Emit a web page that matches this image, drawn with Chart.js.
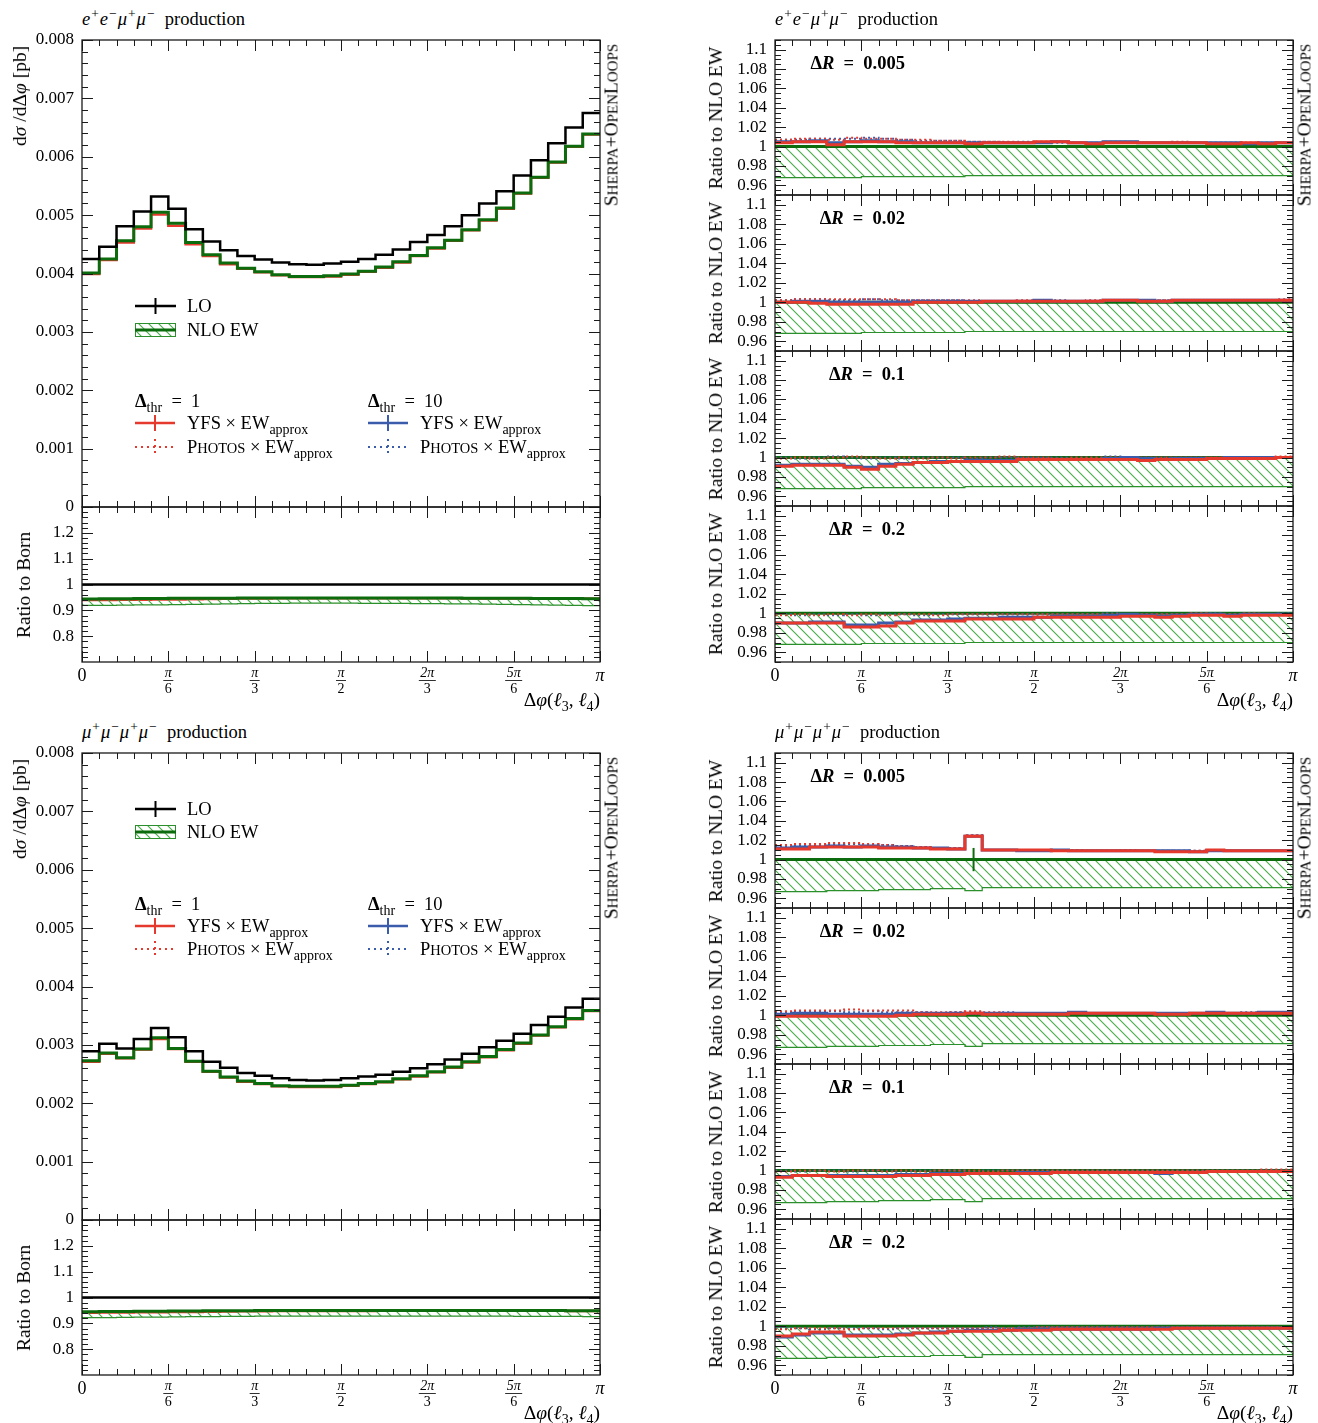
<!DOCTYPE html>
<html><head><meta charset="utf-8">
<script src="https://cdn.jsdelivr.net/npm/chart.js@4.4.1/dist/chart.umd.min.js"></script>
<style>
html,body{margin:0;padding:0;background:#fff;}
body{width:1318px;height:1423px;position:relative;overflow:hidden;font-family:"Liberation Serif","DejaVu Serif",serif;color:#000;}
canvas{position:absolute;}
.tx{position:absolute;white-space:nowrap;font-size:18.5px;line-height:20px;transform:translateY(-50%);}
.tx sub,.vt sub{font-size:14px;vertical-align:-5px;line-height:0;}
.tx sup{font-size:13.5px;vertical-align:7px;line-height:0;padding-left:1px;padding-right:1px;}
.vt{position:absolute;white-space:nowrap;font-size:19.5px;line-height:20px;transform:translate(-50%,-50%) rotate(-90deg);}
.sc{font-size:14.5px;}
.sc2{font-size:15px;}
</style></head><body>
<script>
// ---------------- DATA ----------------
const PI = Math.PI;
const NB = 30;
const binEdges = []; for (let i = 0; i <= NB; i++) binEdges.push(i * PI / NB);
const xTickLabels = [['0',''],['π','6'],['π','3'],['π','2'],['2π','3'],['5π','6'],['π','']];
const mainYTicks = ['0','0.001','0.002','0.003','0.004','0.005','0.006','0.007','0.008'];
const bornYTicks = ['0.8','0.9','1','1.1','1.2'];
const ratioYTicks = ['0.96','0.98','1','1.02','1.04','1.06','1.08','1.1'];
const deltaR = ['0.005','0.02','0.1','0.2'];

// e+e- mu+mu- : main panel
const lo_eemm  = [0.00425,0.00446,0.00481,0.00506,0.00532,0.00511,0.00476,0.00455,0.00440,0.00430,0.00424,0.00419,0.00416,0.00415,0.00417,0.00420,0.00425,0.00432,0.00441,0.00454,0.00466,0.00481,0.00500,0.00520,0.00541,0.00568,0.00594,0.00623,0.00650,0.00675];
const nlo_eemm = [0.00401,0.00425,0.00456,0.00480,0.00505,0.00486,0.00453,0.00432,0.00418,0.00409,0.00403,0.00398,0.00395,0.00395,0.00396,0.00399,0.00404,0.00411,0.00420,0.00431,0.00444,0.00457,0.00475,0.00492,0.00512,0.00538,0.00565,0.00591,0.00618,0.00639];
const yfs_eemm = [0.00399,0.00423,0.00453,0.00477,0.00501,0.00482,0.00450,0.00430,0.00416,0.00408,0.00402,0.00397,0.00394,0.00394,0.00395,0.00398,0.00403,0.00410,0.00419,0.00430,0.00443,0.00456,0.00474,0.00491,0.00511,0.00537,0.00564,0.00590,0.00617,0.00638];
// ratio to Born
const bornLO_eemm  = [1,1,1,1,1,1,1,1,1,1,1,1,1,1,1,1,1,1,1,1,1,1,1,1,1,1,1,1,1,1];
const bornNlo_eemm = [0.944,0.945,0.945,0.946,0.946,0.947,0.947,0.947,0.947,0.948,0.948,0.948,0.948,0.948,0.948,0.948,0.948,0.948,0.948,0.948,0.948,0.948,0.947,0.947,0.947,0.947,0.946,0.946,0.946,0.945];
const bornLow_eemm = [0.919,0.919,0.920,0.921,0.921,0.922,0.923,0.924,0.925,0.926,0.927,0.927,0.928,0.928,0.928,0.928,0.927,0.927,0.927,0.926,0.926,0.925,0.925,0.924,0.923,0.922,0.921,0.920,0.919,0.918];
const bornYfs_eemm = [0.940,0.940,0.941,0.941,0.942,0.942,0.943,0.944,0.945,0.946,0.946,0.947,0.947,0.947,0.947,0.947,0.947,0.947,0.947,0.947,0.947,0.947,0.946,0.946,0.946,0.946,0.946,0.946,0.945,0.945];
// ratio to NLO EW
const nloRef_eemm = [1,1,1,1,1,1,1,1,1,1,1,1,1,1,1,1,1,1,1,1,1,1,1,1,1,1,1,1,1,1];
const nloLow_eemm = [0.968,0.968,0.968,0.968,0.968,0.969,0.969,0.969,0.969,0.969,0.969,0.970,0.970,0.970,0.970,0.970,0.970,0.970,0.970,0.970,0.970,0.970,0.970,0.970,0.970,0.970,0.970,0.970,0.970,0.970];
const eemm_yfs1_005  = [1.004,1.005,1.005,1.002,1.005,1.005,1.005,1.004,1.004,1.004,1.004,1.003,1.004,1.004,1.004,1.005,1.005,1.004,1.003,1.004,1.004,1.004,1.004,1.004,1.004,1.003,1.003,1.004,1.003,1.004];
const eemm_pho1_005  = [1.007,1.008,1.008,1.007,1.009,1.008,1.008,1.007,1.007,1.006,1.006,1.005,1.005,1.005,1.004,1.005,1.005,1.004,1.004,1.005,1.005,1.004,1.004,1.005,1.004,1.004,1.004,1.004,1.004,1.004];
const eemm_yfs10_005 = [1.005,1.005,1.006,1.004,1.005,1.006,1.005,1.005,1.004,1.004,1.004,1.004,1.004,1.004,1.004,1.004,1.005,1.004,1.004,1.005,1.005,1.004,1.004,1.004,1.004,1.004,1.004,1.003,1.004,1.004];
const eemm_pho10_005 = [1.007,1.007,1.008,1.008,1.008,1.009,1.008,1.007,1.006,1.006,1.006,1.005,1.005,1.004,1.005,1.004,1.004,1.004,1.004,1.005,1.005,1.004,1.004,1.004,1.004,1.004,1.004,1.004,1.003,1.004];
const eemm_yfs1_002  = [1.000,1.000,0.999,0.998,0.998,0.998,0.998,0.998,1.000,1.000,1.000,1.000,1.001,1.001,1.001,1.001,1.001,1.001,1.001,1.002,1.002,1.001,1.001,1.002,1.002,1.002,1.002,1.002,1.002,1.002];
const eemm_pho1_002  = [1.002,1.003,1.003,1.003,1.003,1.003,1.003,1.002,1.002,1.002,1.002,1.002,1.001,1.001,1.002,1.001,1.001,1.001,1.002,1.002,1.002,1.002,1.002,1.002,1.002,1.002,1.002,1.002,1.002,1.003];
const eemm_yfs10_002 = [1.000,1.001,1.001,1.000,1.000,1.000,1.000,1.000,1.001,1.001,1.001,1.001,1.001,1.001,1.001,1.002,1.001,1.001,1.001,1.002,1.002,1.002,1.001,1.002,1.002,1.002,1.002,1.002,1.002,1.002];
const eemm_pho10_002 = [1.002,1.003,1.003,1.002,1.002,1.003,1.002,1.002,1.002,1.002,1.002,1.001,1.001,1.001,1.001,1.001,1.002,1.001,1.001,1.002,1.002,1.002,1.002,1.002,1.002,1.002,1.002,1.002,1.002,1.002];
const eemm_yfs1_01   = [0.991,0.992,0.992,0.992,0.990,0.988,0.991,0.993,0.995,0.995,0.996,0.996,0.996,0.996,0.998,0.998,0.998,0.998,0.998,0.998,0.998,0.997,0.998,0.998,0.998,0.999,0.999,0.999,0.999,1.000];
const eemm_pho1_01   = [0.999,1.000,0.999,1.000,1.001,1.000,0.999,1.000,0.999,1.000,0.999,1.000,1.000,1.001,1.000,1.000,0.999,1.000,1.000,1.000,1.000,1.000,1.000,1.000,1.000,1.000,1.000,1.000,1.000,1.001];
const eemm_yfs10_01  = [0.992,0.993,0.993,0.993,0.991,0.990,0.993,0.994,0.995,0.996,0.996,0.997,0.997,0.997,0.998,0.998,0.998,0.998,0.998,0.999,1.000,0.999,0.998,0.999,0.999,0.999,1.000,1.000,1.000,1.000];
const eemm_pho10_01  = [1.000,0.999,1.000,1.001,1.000,0.999,1.000,0.999,1.000,1.000,1.000,0.999,1.000,1.000,1.000,1.000,1.000,1.000,1.000,1.001,1.000,1.000,1.000,1.000,1.000,1.000,1.000,1.000,1.000,1.000];
const eemm_yfs1_02   = [0.990,0.990,0.990,0.990,0.986,0.986,0.987,0.990,0.992,0.992,0.992,0.994,0.994,0.994,0.994,0.996,0.996,0.996,0.996,0.996,0.997,0.997,0.996,0.997,0.998,0.998,0.997,0.998,0.998,0.998];
const eemm_pho1_02   = [0.998,0.999,0.998,0.999,0.998,0.999,0.998,0.999,0.999,0.998,0.999,0.999,0.999,0.999,0.999,0.999,0.999,0.999,0.999,0.999,0.999,0.999,0.999,0.999,1.000,0.999,0.999,1.000,0.999,0.999];
const eemm_yfs10_02  = [0.990,0.990,0.991,0.991,0.988,0.988,0.990,0.991,0.993,0.993,0.994,0.995,0.995,0.996,0.996,0.996,0.997,0.997,0.997,0.998,0.999,0.998,0.997,0.998,0.999,0.999,0.998,0.999,0.999,0.999];
const eemm_pho10_02  = [0.999,0.998,0.999,0.998,0.999,0.998,0.999,0.999,0.998,0.999,0.999,0.999,0.999,0.999,0.999,0.999,0.999,0.999,0.999,1.000,0.999,0.999,0.999,0.999,0.999,1.000,0.999,0.999,0.999,1.000];
const eemm_nloErr    = [0,0,0,0,0,0,0,0,0,0,0,0,0,0,0,0,0,0,0,0,0,0,0,0,0,0,0,0,0,0];

// mu+mu- mu+mu- : main panel
const lo_mmmm  = [0.00289,0.00302,0.00294,0.00310,0.00329,0.00313,0.00289,0.00271,0.00261,0.00252,0.00247,0.00243,0.00240,0.00239,0.00240,0.00243,0.00246,0.00249,0.00254,0.00260,0.00267,0.00275,0.00285,0.00296,0.00307,0.00319,0.00334,0.00348,0.00364,0.00379];
const nlo_mmmm = [0.00273,0.00286,0.00278,0.00293,0.00312,0.00294,0.00272,0.00255,0.00245,0.00238,0.00234,0.00230,0.00229,0.00229,0.00229,0.00231,0.00234,0.00237,0.00242,0.00247,0.00254,0.00262,0.00271,0.00280,0.00292,0.00303,0.00317,0.00331,0.00345,0.00359];
const yfs_mmmm = [0.00271,0.00285,0.00277,0.00292,0.00310,0.00293,0.00271,0.00254,0.00244,0.00237,0.00233,0.00229,0.00228,0.00228,0.00228,0.00230,0.00233,0.00236,0.00241,0.00246,0.00253,0.00261,0.00270,0.00279,0.00291,0.00302,0.00316,0.00330,0.00344,0.00358];
const bornLO_mmmm  = [1,1,1,1,1,1,1,1,1,1,1,1,1,1,1,1,1,1,1,1,1,1,1,1,1,1,1,1,1,1];
const bornNlo_mmmm = [0.945,0.946,0.946,0.947,0.947,0.948,0.948,0.949,0.949,0.949,0.950,0.950,0.950,0.950,0.950,0.950,0.950,0.950,0.950,0.950,0.950,0.950,0.950,0.950,0.950,0.950,0.950,0.950,0.949,0.949];
const bornLow_mmmm = [0.922,0.922,0.923,0.924,0.924,0.925,0.926,0.926,0.927,0.927,0.928,0.928,0.928,0.928,0.928,0.928,0.928,0.928,0.928,0.928,0.928,0.928,0.928,0.928,0.928,0.927,0.927,0.927,0.927,0.926];
const bornYfs_mmmm = [0.941,0.942,0.942,0.943,0.943,0.944,0.944,0.945,0.946,0.947,0.947,0.948,0.948,0.948,0.948,0.948,0.948,0.949,0.949,0.949,0.949,0.949,0.949,0.949,0.949,0.949,0.949,0.949,0.948,0.948];
const nloRef_mmmm = [1,1,1,1,1,1,1,1,1,1,1,1,1,1,1,1,1,1,1,1,1,1,1,1,1,1,1,1,1,1];
const nloLow_mmmm = [0.967,0.967,0.967,0.968,0.968,0.968,0.969,0.969,0.969,0.970,0.970,0.968,0.971,0.971,0.971,0.971,0.971,0.971,0.971,0.971,0.971,0.971,0.971,0.971,0.971,0.971,0.971,0.971,0.971,0.971];
const mmmm_yfs1_005  = [1.011,1.011,1.013,1.013,1.013,1.013,1.012,1.012,1.012,1.011,1.011,1.024,1.010,1.010,1.010,1.010,1.009,1.009,1.009,1.009,1.009,1.009,1.008,1.008,1.008,1.010,1.009,1.009,1.009,1.009];
const mmmm_pho1_005  = [1.015,1.016,1.016,1.017,1.017,1.016,1.015,1.014,1.013,1.012,1.012,1.025,1.010,1.010,1.010,1.010,1.010,1.010,1.009,1.009,1.010,1.009,1.009,1.009,1.009,1.010,1.009,1.009,1.009,1.009];
const mmmm_yfs10_005 = [1.012,1.013,1.013,1.014,1.013,1.014,1.013,1.013,1.012,1.012,1.011,1.024,1.010,1.010,1.009,1.009,1.010,1.009,1.009,1.009,1.009,1.009,1.009,1.009,1.008,1.009,1.009,1.009,1.009,1.009];
const mmmm_pho10_005 = [1.014,1.015,1.015,1.016,1.016,1.015,1.015,1.014,1.013,1.012,1.012,1.025,1.010,1.010,1.010,1.009,1.009,1.009,1.009,1.009,1.009,1.009,1.009,1.008,1.009,1.009,1.009,1.009,1.009,1.009];
const mmmm_yfs1_002  = [0.999,0.999,0.999,0.999,0.999,0.999,0.999,1.000,1.001,1.001,1.001,1.002,1.001,1.001,1.001,1.001,1.001,1.002,1.002,1.002,1.002,1.002,1.001,1.001,1.002,1.002,1.002,1.002,1.002,1.002];
const mmmm_pho1_002  = [1.004,1.005,1.005,1.005,1.006,1.005,1.005,1.005,1.003,1.003,1.003,1.004,1.003,1.002,1.002,1.002,1.002,1.002,1.002,1.002,1.002,1.002,1.002,1.002,1.002,1.002,1.002,1.002,1.002,1.002];
const mmmm_yfs10_002 = [1.001,1.002,1.002,1.001,1.001,1.001,1.001,1.002,1.002,1.002,1.002,1.002,1.002,1.002,1.002,1.002,1.002,1.003,1.002,1.002,1.002,1.002,1.002,1.002,1.002,1.003,1.002,1.002,1.003,1.003];
const mmmm_pho10_002 = [1.003,1.004,1.004,1.004,1.003,1.004,1.003,1.003,1.003,1.002,1.003,1.003,1.002,1.003,1.002,1.002,1.002,1.002,1.002,1.002,1.002,1.002,1.002,1.002,1.002,1.002,1.002,1.003,1.002,1.002];
const mmmm_yfs1_01   = [0.993,0.995,0.995,0.994,0.994,0.994,0.994,0.995,0.995,0.996,0.996,0.997,0.997,0.997,0.997,0.997,0.998,0.998,0.998,0.998,0.998,0.998,0.998,0.998,0.998,0.999,0.999,0.999,0.999,0.999];
const mmmm_pho1_01   = [0.999,1.000,1.000,0.999,1.000,1.000,0.999,1.000,0.999,1.000,1.000,1.000,0.999,1.000,1.000,1.000,1.000,1.000,1.000,1.000,1.000,1.000,1.000,1.000,1.000,1.000,1.000,1.000,1.001,1.001];
const mmmm_yfs10_01  = [0.994,0.995,0.995,0.995,0.995,0.995,0.995,0.996,0.996,0.997,0.997,0.997,0.997,0.997,0.998,0.998,0.998,0.998,0.998,0.998,0.998,0.998,0.997,0.998,0.998,0.999,0.999,0.999,0.999,0.999];
const mmmm_pho10_01  = [1.000,0.999,1.000,1.000,0.999,1.000,1.000,0.999,1.000,1.000,1.000,0.999,1.000,1.000,1.000,1.000,1.000,1.000,1.000,1.000,1.000,1.000,1.000,1.000,1.000,1.000,1.000,1.000,1.000,1.000];
const mmmm_yfs1_02   = [0.990,0.992,0.994,0.994,0.990,0.990,0.990,0.991,0.993,0.993,0.995,0.995,0.995,0.996,0.996,0.996,0.997,0.997,0.997,0.997,0.997,0.997,0.997,0.998,0.998,0.998,0.998,0.998,0.998,0.998];
const mmmm_pho1_02   = [0.997,0.998,0.998,0.998,0.997,0.998,0.998,0.998,0.998,0.998,0.998,0.998,0.998,0.998,0.998,0.999,0.999,0.999,0.999,0.999,0.999,0.999,0.999,0.999,0.999,0.999,0.999,0.999,0.999,0.999];
const mmmm_yfs10_02  = [0.989,0.991,0.993,0.993,0.991,0.991,0.991,0.992,0.993,0.994,0.995,0.996,0.996,0.996,0.997,0.997,0.997,0.997,0.997,0.997,0.997,0.997,0.998,0.998,0.998,0.998,0.998,0.998,0.998,0.998];
const mmmm_pho10_02  = [0.998,0.998,0.997,0.998,0.998,0.998,0.997,0.998,0.998,0.998,0.998,0.998,0.999,0.998,0.999,0.999,0.999,0.999,0.999,0.999,0.999,0.999,0.999,0.999,0.999,0.999,0.999,0.999,0.999,0.999];
const mmmm_nloErr    = [0,0,0,0,0,0,0,0,0,0,0,0.012,0,0,0,0,0,0,0,0,0,0,0,0,0,0,0,0,0,0];

// ---------------- STYLE ----------------
const RED = '#e5392d', BLUE = '#3a5cab', GREEN = '#0c6b0c', GREEN_L = '#2b8f2b', HATCH = '#46ad46';
const FONT = '"Liberation Serif","DejaVu Serif",serif';

function makeHatch() {
  const c = document.createElement('canvas'); c.width = 10; c.height = 10;
  const g = c.getContext('2d'); g.strokeStyle = HATCH; g.lineWidth = 1.1;
  g.beginPath(); g.moveTo(-1,-1); g.lineTo(11,11); g.moveTo(-6,4); g.lineTo(6,16); g.moveTo(4,-6); g.lineTo(16,6); g.stroke();
  return g.createPattern(c, 'repeat');
}
const hatchPattern = makeHatch();

function steps(v) { const p = v.map((y, i) => ({x: binEdges[i], y})); p.push({x: binEdges[NB], y: v[NB - 1]}); return p; }
function hist(v, color, w, dash) { return {data: steps(v), borderColor: color, borderWidth: w, borderDash: dash || [], stepped: 'before', fill: false, pointRadius: 0}; }
function band(v) { return {data: steps(v), borderColor: GREEN_L, borderWidth: 1.2, stepped: 'before', fill: '-1', backgroundColor: hatchPattern, pointRadius: 0}; }

function range(a, b, s) { const r = []; for (let v = a; v <= b + 1e-9; v += s) r.push(+v.toFixed(6)); return r; }

const framePlugin = {
  id: 'frame',
  afterDatasetsDraw(chart) {
    const f = chart.canvas._frame; if (!f) return;
    const ctx = chart.ctx, a = chart.chartArea, xs = chart.scales.x, ys = chart.scales.y;
    ctx.save();
    ctx.strokeStyle = '#1a1a1a'; ctx.lineWidth = 1; ctx.setLineDash([]);
    ctx.beginPath();
    for (let k = 0; k <= NB; k++) {
      const px = Math.round(xs.getPixelForValue(binEdges[k])) + 0.5; const len = k % 5 === 0 ? 11 : 6;
      ctx.moveTo(px, a.bottom); ctx.lineTo(px, a.bottom - len);
      ctx.moveTo(px, a.top); ctx.lineTo(px, a.top + len);
    }
    f.yMajor.forEach(v => { const py = Math.round(ys.getPixelForValue(v)) + 0.5;
      ctx.moveTo(a.left, py); ctx.lineTo(a.left + 11, py); ctx.moveTo(a.right, py); ctx.lineTo(a.right - 11, py); });
    f.yMinor.forEach(v => { const py = Math.round(ys.getPixelForValue(v)) + 0.5;
      ctx.moveTo(a.left, py); ctx.lineTo(a.left + 6, py); ctx.moveTo(a.right, py); ctx.lineTo(a.right - 6, py); });
    ctx.stroke();
    ctx.lineWidth = 1.3; ctx.strokeRect(a.left, a.top, a.right - a.left, a.bottom - a.top);
    ctx.fillStyle = '#000'; ctx.font = '17px ' + FONT; ctx.textAlign = 'right'; ctx.textBaseline = 'middle';
    f.yLabels.forEach(t => ctx.fillText(t, a.left - 8, ys.getPixelForValue(parseFloat(t))));
    if (f.xLabels) {
      ctx.textAlign = 'center';
      xTickLabels.forEach((l, k) => {
        const px = xs.getPixelForValue(k * PI / 6);
        if (!l[1]) { ctx.font = (l[0] === 'π' ? 'italic ' : '') + '18px ' + FONT; ctx.fillText(l[0], px, a.bottom + 14); }
        else {
          ctx.font = 'italic 14px ' + FONT; ctx.fillText(l[0], px, a.bottom + 11);
          const w = ctx.measureText(l[0]).width + 3;
          ctx.beginPath(); ctx.lineWidth = 0.9; ctx.moveTo(px - w / 2, a.bottom + 18.5); ctx.lineTo(px + w / 2, a.bottom + 18.5); ctx.stroke();
          ctx.font = '14px ' + FONT; ctx.fillText(l[1], px, a.bottom + 27);
        }
      });
    }
    if (f.err) {
      ctx.strokeStyle = GREEN; ctx.lineWidth = 2;
      f.err.forEach((e, i) => { if (!e) return; const px = xs.getPixelForValue((binEdges[i] + binEdges[i + 1]) / 2);
        ctx.beginPath(); ctx.moveTo(px, ys.getPixelForValue(f.errRef[i] - e)); ctx.lineTo(px, ys.getPixelForValue(f.errRef[i] + e)); ctx.stroke(); });
    }
    if (f.legend) f.legend(ctx, f.ox, f.oy);
    ctx.restore();
  }
};

function panel(L, R, T, B, ymin, ymax, datasets, f) {
  const padL = 85, padR = 22, padT = 8, padB = f.xLabels ? 45 : 8;
  const cv = document.createElement('canvas');
  cv.width = (R - L) + padL + padR; cv.height = (B - T) + padT + padB;
  cv.style.left = (L - padL) + 'px'; cv.style.top = (T - padT) + 'px';
  f.ox = L - padL; f.oy = T - padT;
  cv._frame = f;
  document.body.appendChild(cv);
  new Chart(cv, {
    type: 'line', data: {datasets},
    options: {
      responsive: false, animation: false, events: [],
      layout: {padding: {left: padL, right: padR, top: padT, bottom: padB}},
      scales: {x: {type: 'linear', min: 0, max: PI, display: false}, y: {type: 'linear', min: ymin, max: ymax, display: false}},
      plugins: {legend: {display: false}, tooltip: {enabled: false}},
      elements: {point: {radius: 0}, line: {tension: 0}}
    },
    plugins: [framePlugin]
  });
}

function text(html, x, y, cls, extra) {
  const d = document.createElement('div'); d.className = cls || 'tx'; d.innerHTML = html;
  d.style.left = x + 'px'; d.style.top = y + 'px'; if (extra) Object.assign(d.style, extra);
  document.body.appendChild(d); return d;
}
function rtext(html, xr, y, extra) {
  const d = document.createElement('div'); d.className = 'tx'; d.innerHTML = html;
  d.style.right = (1318 - xr) + 'px'; d.style.top = y + 'px'; if (extra) Object.assign(d.style, extra);
  document.body.appendChild(d); return d;
}

function legendDraw(off) {
  return function (ctx, ox, oy) {
    const X = x => x - ox, Y = y => y - oy;
    ctx.setLineDash([]);
    ctx.strokeStyle = '#000'; ctx.lineWidth = 2.5;
    ctx.beginPath(); ctx.moveTo(X(135), Y(off.lo)); ctx.lineTo(X(176), Y(off.lo)); ctx.stroke();
    ctx.lineWidth = 2; ctx.beginPath(); ctx.moveTo(X(155.5), Y(off.lo - 8)); ctx.lineTo(X(155.5), Y(off.lo + 8)); ctx.stroke();
    ctx.fillStyle = hatchPattern; ctx.fillRect(X(135), Y(off.nlo - 7), 41, 14);
    ctx.strokeStyle = GREEN_L; ctx.lineWidth = 1; ctx.strokeRect(X(135) + 0.5, Y(off.nlo - 7) + 0.5, 40, 13);
    ctx.strokeStyle = GREEN; ctx.lineWidth = 3; ctx.beginPath(); ctx.moveTo(X(135), Y(off.nlo)); ctx.lineTo(X(176), Y(off.nlo)); ctx.stroke();
    [[135, RED], [368, BLUE]].forEach(([x0, c]) => {
      ctx.strokeStyle = c; ctx.setLineDash([]); ctx.lineWidth = 2.5;
      ctx.beginPath(); ctx.moveTo(X(x0), Y(off.yfs)); ctx.lineTo(X(x0 + 40), Y(off.yfs)); ctx.stroke();
      ctx.lineWidth = 2; ctx.beginPath(); ctx.moveTo(X(x0 + 20), Y(off.yfs - 8)); ctx.lineTo(X(x0 + 20), Y(off.yfs + 8)); ctx.stroke();
      ctx.setLineDash([2, 4]); ctx.lineWidth = 2;
      ctx.beginPath(); ctx.moveTo(X(x0), Y(off.pho)); ctx.lineTo(X(x0 + 40), Y(off.pho)); ctx.stroke();
      ctx.beginPath(); ctx.moveTo(X(x0 + 20), Y(off.pho - 8)); ctx.lineTo(X(x0 + 20), Y(off.pho + 8)); ctx.stroke();
    });
    ctx.setLineDash([]);
  };
}

const titles = {
  eemm: '<i>e</i><sup>+</sup><i>e</i><sup>−</sup><i>μ</i><sup>+</sup><i>μ</i><sup>−</sup>&nbsp; production',
  mmmm: '<i>μ</i><sup>+</sup><i>μ</i><sup>−</sup><i>μ</i><sup>+</sup><i>μ</i><sup>−</sup>&nbsp; production'
};
const sherpaLabel = 'S<span class="sc2">HERPA</span>+O<span class="sc2">PEN</span>L<span class="sc2">OOPS</span>';

function block(off, key, lo, nlo, yfs, bLO, bNlo, bLow, bYfs, nRef, nLow, series, nErr, leg) {
  const mainMaj = range(0, 0.008, 0.001), mainMin = range(0, 0.008, 0.0002).filter(v => Math.abs(v * 1000 - Math.round(v * 1000)) > 1e-6);
  panel(82, 600, 40 + off, 507 + off, 0, 0.008,
    [hist(lo, '#000', 2.5), hist(nlo, GREEN, 3), hist(yfs, RED, 2.5)],
    {yMajor: mainMaj, yMinor: mainMin, yLabels: mainYTicks, xLabels: false, legend: legendDraw(leg)});
  const bMaj = range(0.8, 1.2, 0.1), bMin = range(0.7, 1.3, 0.02).filter(v => Math.abs(v * 10 - Math.round(v * 10)) > 1e-6);
  panel(82, 600, 507 + off, 662 + off, 0.7, 1.3,
    [hist(bLO, '#000', 2.5), hist(bNlo, GREEN, 3), band(bLow), hist(bYfs, RED, 2.5)],
    {yMajor: bMaj, yMinor: bMin, yLabels: bornYTicks, xLabels: true});
  const rMaj = range(0.96, 1.1, 0.02), rMin = range(0.95, 1.11, 0.005).filter(v => Math.abs(v * 50 - Math.round(v * 50)) > 1e-6);
  const tops = [40, 195, 351, 506, 662];
  series.forEach((s, i) => {
    const T = tops[i] + off, B = tops[i + 1] + off;
    panel(775, 1293, T, B, 0.95, 1.11,
      [hist(s[0], RED, 3), hist(s[2], BLUE, 3), hist(s[1], RED, 2, [2, 3]), hist(s[3], BLUE, 2, [2, 3]), hist(nRef, GREEN, 3), band(nLow)],
      {yMajor: rMaj, yMinor: rMin, yLabels: ratioYTicks, xLabels: i === 3, err: i === 0 ? nErr : null, errRef: nRef});
    rtext('<b>Δ<i>R</i>&nbsp; = &nbsp;' + deltaR[i] + '</b>', 905, T + 23);
    text('Ratio to NLO EW', 716, (T + B) / 2, 'vt');
  });
  text(titles[key], 82, 19 + off);
  text(titles[key], 775, 19 + off);
  text('d<i>σ</i> /dΔ<i>φ</i> [pb]', 20, 96 + off, 'vt');
  text('Ratio to Born', 24, 585 + off, 'vt');
  text(sherpaLabel, 612, 125 + off, 'vt');
  text(sherpaLabel, 1305, 125 + off, 'vt');
  rtext('Δ<i>φ</i>(<i>ℓ</i><sub>3</sub>, <i>ℓ</i><sub>4</sub>)', 600, 700 + off, {fontSize: '19.5px'});
  rtext('Δ<i>φ</i>(<i>ℓ</i><sub>3</sub>, <i>ℓ</i><sub>4</sub>)', 1293, 700 + off, {fontSize: '19.5px'});
  text('LO', 187, leg.lo); text('NLO EW', 187, leg.nlo);
  text('<b>Δ</b><sub>thr</sub>&nbsp; = &nbsp;1', 135, leg.thr); text('<b>Δ</b><sub>thr</sub>&nbsp; = &nbsp;10', 368, leg.thr);
  text('YFS × EW<sub>approx</sub>', 187, leg.yfs); text('YFS × EW<sub>approx</sub>', 420, leg.yfs);
  text('P<span class="sc">HOTOS</span> × EW<sub>approx</sub>', 187, leg.pho); text('P<span class="sc">HOTOS</span> × EW<sub>approx</sub>', 420, leg.pho);
}

block(0, 'eemm', lo_eemm, nlo_eemm, yfs_eemm, bornLO_eemm, bornNlo_eemm, bornLow_eemm, bornYfs_eemm, nloRef_eemm, nloLow_eemm,
  [[eemm_yfs1_005, eemm_pho1_005, eemm_yfs10_005, eemm_pho10_005],
   [eemm_yfs1_002, eemm_pho1_002, eemm_yfs10_002, eemm_pho10_002],
   [eemm_yfs1_01, eemm_pho1_01, eemm_yfs10_01, eemm_pho10_01],
   [eemm_yfs1_02, eemm_pho1_02, eemm_yfs10_02, eemm_pho10_02]], eemm_nloErr,
  {lo: 306, nlo: 330, thr: 401, yfs: 423, pho: 447});
block(713, 'mmmm', lo_mmmm, nlo_mmmm, yfs_mmmm, bornLO_mmmm, bornNlo_mmmm, bornLow_mmmm, bornYfs_mmmm, nloRef_mmmm, nloLow_mmmm,
  [[mmmm_yfs1_005, mmmm_pho1_005, mmmm_yfs10_005, mmmm_pho10_005],
   [mmmm_yfs1_002, mmmm_pho1_002, mmmm_yfs10_002, mmmm_pho10_002],
   [mmmm_yfs1_01, mmmm_pho1_01, mmmm_yfs10_01, mmmm_pho10_01],
   [mmmm_yfs1_02, mmmm_pho1_02, mmmm_yfs10_02, mmmm_pho10_02]], mmmm_nloErr,
  {lo: 809, nlo: 832, thr: 904, yfs: 926, pho: 949});
</script>
</body></html>
